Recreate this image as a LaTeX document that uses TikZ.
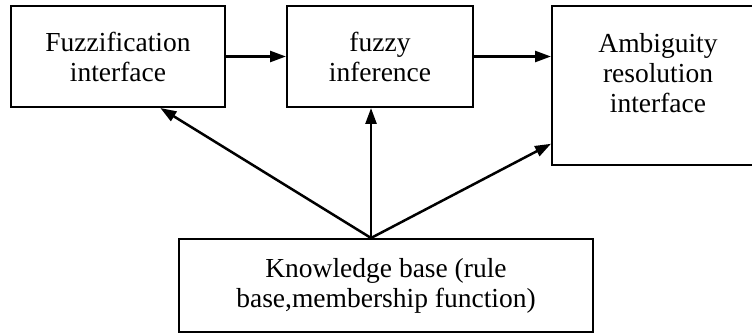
\documentclass[tikz,border=0pt]{standalone}
\usepackage{fontspec}
\setmainfont{Liberation Serif}
\usetikzlibrary{arrows.meta,calc}
\begin{document}
\begin{tikzpicture}[x=1pt,y=-1pt,
  box/.style={draw,line width=2pt,inner sep=0pt,align=center,font=\fontsize{27.5pt}{30pt}\selectfont},
  txt/.style={inner sep=0pt,align=center,font=\fontsize{27.5pt}{30pt}\selectfont},
  arr/.style={line width=2.5pt,-{Triangle[length=16pt,width=11pt]}}]
\useasboundingbox (0,0) rectangle (752,336);
\clip (0,0) rectangle (752,336);
\node[box,minimum width=214pt,minimum height=101pt] (b1) at (118,56.5) {Fuzzification\\interface};
\node[box,minimum width=186pt,minimum height=101pt] (b2) at (380,56.5) {fuzzy\\inference};
\node[box,minimum width=212pt,minimum height=159pt] (b3) at (658,85.5) {};
\node[txt,anchor=north] (b3t) at ($(b3.north)+(0,28)$) {Ambiguity\\resolution\\interface};
\node[box,minimum width=414pt,minimum height=93pt] (b4) at (386,285.5) {Knowledge base (rule\\base,membership function)};
\coordinate (k) at ($(b4.north west)!0.464!(b4.north east)$);
\draw[arr] (b1.east) -- (b2.west);
\draw[arr] (b2.east) -- (b2.east -| b3.west);
\draw[arr] (k) -- ($(b1.south west)!0.696!(b1.south east)$);
\draw[arr] (k) -- (k |- b2.south);
\draw[arr] (k) -- ($(b3.north west)!0.862!(b3.south west)$);
\end{tikzpicture}
\end{document}
